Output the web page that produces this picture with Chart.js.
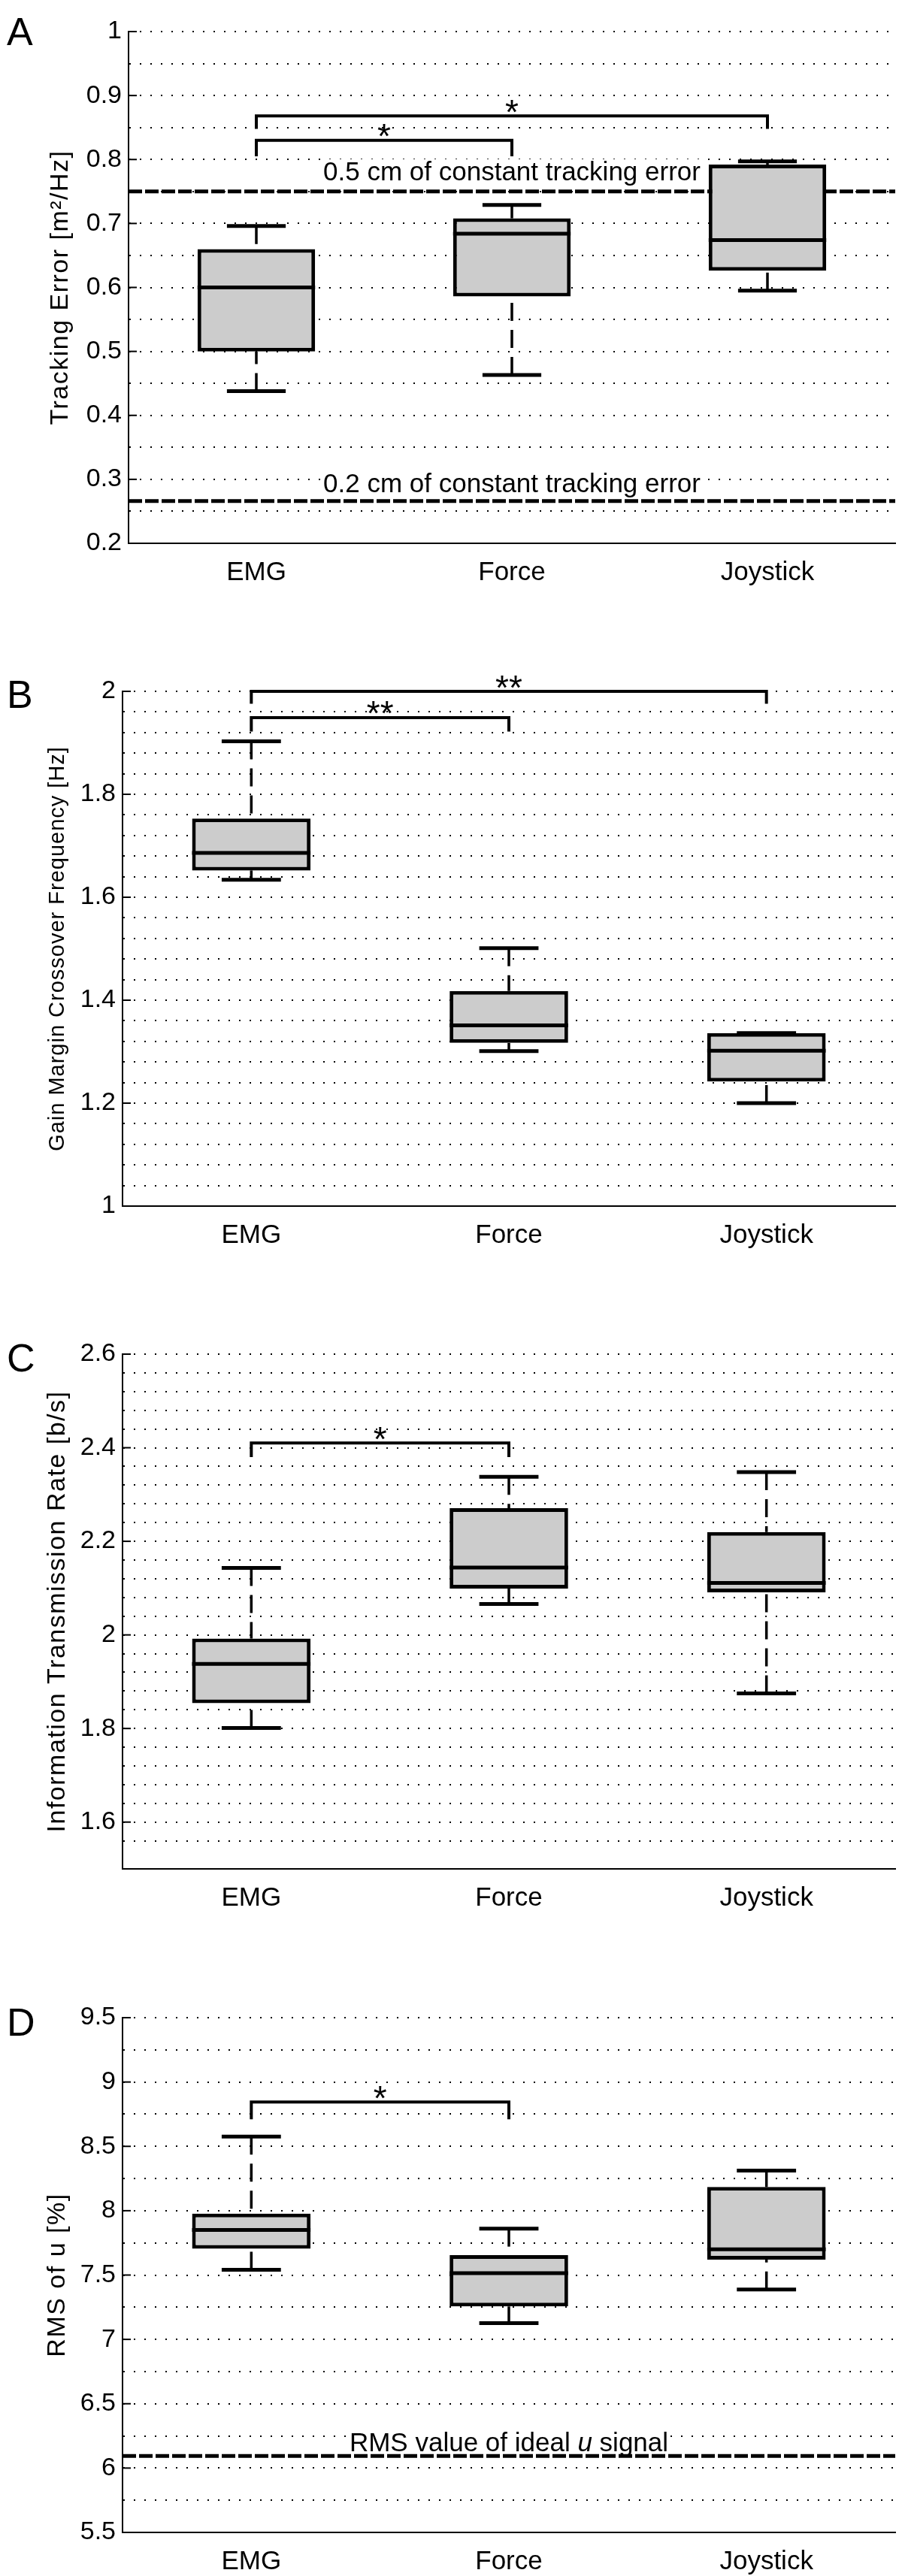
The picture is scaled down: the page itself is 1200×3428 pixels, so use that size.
<!DOCTYPE html>
<html>
<head>
<meta charset="utf-8">
<title>Tracking performance box plots</title>
<script src="https://cdn.jsdelivr.net/npm/chart.js@4.4.1/dist/chart.umd.min.js"></script>
<style>
    html, body { margin: 0; padding: 0; background: #fff; overflow: hidden; }
    .panel { position: absolute; left: 0; width: 1200px; }
</style>
</head>
<body>
<div class="panel" style="top:0px"><canvas id="chartA" width="1200" height="785"></canvas></div>
<div class="panel" style="top:878px"><canvas id="chartB" width="1200" height="785"></canvas></div>
<div class="panel" style="top:1760px"><canvas id="chartC" width="1200" height="785"></canvas></div>
<div class="panel" style="top:2643px"><canvas id="chartD" width="1200" height="785"></canvas></div>
<script>
const categories = ['EMG', 'Force', 'Joystick'];

// A - tracking error
const aLow = [0.438, 0.463, 0.595];
const aQ1 = [0.500, 0.586, 0.626];
const aMed = [0.600, 0.684, 0.674];
const aQ3 = [0.660, 0.708, 0.792];
const aHigh = [0.696, 0.729, 0.797];
const aRefLines = [0.75, 0.266];
const aRefLabels = ['0.5 cm of constant tracking error', '0.2 cm of constant tracking error'];
const aBracketFrom = [0, 0];
const aBracketTo = [1, 2];
const aBracketY = [0.830, 0.868];
const aBracketLeg = [0.805, 0.848];
const aBracketMark = ['*', '*'];

// B - gain margin crossover frequency
const bLow = [1.634, 1.301, 1.200];
const bQ1 = [1.652, 1.317, 1.242];
const bMed = [1.686, 1.351, 1.302];
const bQ3 = [1.753, 1.418, 1.336];
const bHigh = [1.903, 1.501, 1.336];
const bBracketFrom = [0, 0];
const bBracketTo = [1, 2];
const bBracketY = [1.949, 2.0];
const bBracketLeg = [1.922, 1.976];
const bBracketMark = ['**', '**'];

// C - information transmission rate
const cLow = [1.801, 2.066, 1.875];
const cQ1 = [1.854, 2.099, 2.091];
const cMed = [1.938, 2.144, 2.111];
const cQ3 = [1.992, 2.271, 2.220];
const cHigh = [2.143, 2.338, 2.348];
const cBracketFrom = [0];
const cBracketTo = [1];
const cBracketY = [2.410];
const cBracketLeg = [2.380];
const cBracketMark = ['*'];

// D - RMS of u
const dLow = [7.541, 7.126, 7.387];
const dQ1 = [7.704, 7.256, 7.619];
const dMed = [7.851, 7.514, 7.700];
const dQ3 = [7.978, 7.655, 8.184];
const dHigh = [8.576, 7.861, 8.311];
const dRefLines = [6.094];
const dRefLabels = ['RMS value of ideal |u| signal'];
const dBracketFrom = [0];
const dBracketTo = [1];
const dBracketY = [8.844];
const dBracketLeg = [8.71];
const dBracketMark = ['*'];

const FONT = "'Liberation Sans', Arial, Helvetica, sans-serif";

function line(ctx, x1, y1, x2, y2) {
    ctx.beginPath();
    ctx.moveTo(x1, y1);
    ctx.lineTo(x2, y2);
    ctx.stroke();
}

// label with |...| parts in italics, centred on cx, on a white strip
function drawLabel(ctx, text, cx, baseline) {
    const parts = text.split('|');
    let widths = [], total = 0;
    parts.forEach((p, i) => {
        ctx.font = (i % 2 ? 'italic ' : '') + '35px ' + FONT;
        const w = ctx.measureText(p).width;
        widths.push(w);
        total += w;
    });
    ctx.fillStyle = '#fff';
    ctx.fillRect(cx - total / 2 - 3, baseline - 28, total + 6, 32);
    ctx.fillStyle = '#000';
    ctx.textAlign = 'left';
    ctx.textBaseline = 'alphabetic';
    let x = cx - total / 2;
    parts.forEach((p, i) => {
        ctx.font = (i % 2 ? 'italic ' : '') + '35px ' + FONT;
        ctx.fillText(p, x, baseline);
        x += widths[i];
    });
}

const boxExtras = {
    id: 'boxExtras',
    beforeDatasetsDraw(chart, args, o) {
        const ctx = chart.ctx, y = chart.scales.y, x = chart.scales.x, area = chart.chartArea;
        const bars = chart.getDatasetMeta(0).data;
        ctx.save();
        ctx.strokeStyle = '#000';

        // reference lines
        (o.refLines || []).forEach((v, i) => {
            const py = y.getPixelForValue(v);
            drawLabel(ctx, o.refLabels[i], x.getPixelForValue(1), py - o.refOffsets[i]);
            ctx.lineWidth = 5;
            ctx.setLineDash([18, 4]);
            line(ctx, area.left, py, area.right, py);
        });

        // whiskers
        ctx.lineWidth = 3.5;
        ctx.setLineDash([24, 12]);
        bars.forEach((bar, i) => {
            line(ctx, bar.x, y.getPixelForValue(o.high[i]), bar.x, y.getPixelForValue(o.q3[i]));
            line(ctx, bar.x, y.getPixelForValue(o.low[i]), bar.x, y.getPixelForValue(o.q1[i]));
        });
        ctx.restore();
    },
    afterDatasetsDraw(chart, args, o) {
        const ctx = chart.ctx, y = chart.scales.y, area = chart.chartArea;
        const bars = chart.getDatasetMeta(0).data;
        ctx.save();
        ctx.strokeStyle = '#000';
        ctx.setLineDash([]);

        // medians and whisker caps
        bars.forEach((bar, i) => {
            const half = bar.width / 2;
            ctx.lineWidth = 5;
            line(ctx, bar.x - half, y.getPixelForValue(o.med[i]), bar.x + half, y.getPixelForValue(o.med[i]));
            line(ctx, bar.x - half / 2, y.getPixelForValue(o.high[i]), bar.x + half / 2, y.getPixelForValue(o.high[i]));
            line(ctx, bar.x - half / 2, y.getPixelForValue(o.low[i]), bar.x + half / 2, y.getPixelForValue(o.low[i]));
        });

        // significance brackets
        ctx.lineWidth = 4;
        ctx.lineJoin = 'miter';
        o.bracketY.forEach((v, i) => {
            const x1 = bars[o.bracketFrom[i]].x, x2 = bars[o.bracketTo[i]].x;
            const py = y.getPixelForValue(v), pl = y.getPixelForValue(o.bracketLeg[i]);
            ctx.beginPath();
            ctx.moveTo(x1, pl);
            ctx.lineTo(x1, py);
            ctx.lineTo(x2, py);
            ctx.lineTo(x2, pl);
            ctx.stroke();
            ctx.font = '46px ' + FONT;
            ctx.fillStyle = '#000';
            ctx.textAlign = 'center';
            ctx.textBaseline = 'alphabetic';
            const m = ctx.measureText(o.bracketMark[i]);
            const cy = py - 13;
            const base = cy + (m.actualBoundingBoxAscent - m.actualBoundingBoxDescent) / 2;
            ctx.fillText(o.bracketMark[i], (x1 + x2) / 2, base);
        });

        // inward tick marks at labelled values
        ctx.lineWidth = 2;
        y.ticks.forEach((t, i) => {
            if (t.label === '') return;
            const py = y.getPixelForTick(i);
            line(ctx, area.left, py, area.left + 11, py);
        });
        ctx.restore();
    },
    afterDraw(chart, args, o) {
        const ctx = chart.ctx, area = chart.chartArea;
        ctx.save();
        ctx.fillStyle = '#000';
        // panel letter
        ctx.font = '52px ' + FONT;
        ctx.textAlign = 'left';
        ctx.textBaseline = 'alphabetic';
        ctx.fillText(o.letter, 9, o.letterY);
        // y axis title
        ctx.translate(o.titleX, (area.top + area.bottom) / 2);
        ctx.rotate(-Math.PI / 2);
        ctx.font = o.titleSize + 'px ' + FONT;
        ctx.letterSpacing = o.titleSpacing + 'px';
        ctx.textAlign = 'center';
        ctx.textBaseline = 'middle';
        ctx.fillText(o.title, 0, 0);
        ctx.restore();
    }
};

function yLabel(major) {
    return function (value) {
        const r = value / major;
        if (Math.abs(r - Math.round(r)) > 1e-6) return '';
        return String(Math.round(value * 100) / 100);
    };
}

function makeBoxChart(id, p) {
    const el = document.getElementById(id);
    if (!el) return null;
    return new Chart(el, {
        type: 'bar',
        data: {
            labels: categories,
            datasets: [{
                data: p.q1.map((v, i) => [v, p.q3[i]]),
                backgroundColor: '#cccccc',
                borderColor: '#000000',
                borderWidth: 5,
                borderSkipped: false,
                barPercentage: 0.46,
                categoryPercentage: 1.0
            }]
        },
        options: {
            responsive: false,
            animation: false,
            devicePixelRatio: 1,
            layout: {
                padding: { top: 42, right: 9, bottom: 0, left: 0 }
            },
            plugins: {
                legend: { display: false },
                tooltip: { enabled: false },
                boxExtras: p
            },
            scales: {
                x: {
                    grid: { display: false },
                    border: { display: true, color: '#000', width: 2 },
                    ticks: {
                        color: '#000',
                        font: { family: FONT, size: 35 },
                        padding: 10,
                        autoSkip: false,
                        maxRotation: 0
                    },
                    afterFit: (scale) => { scale.height = p.xHeight; }
                },
                y: {
                    min: p.min,
                    max: p.max,
                    grid: {
                        color: '#000',
                        lineWidth: 2,
                        drawTicks: false,
                        borderDash: [2, 12]
                    },
                    border: { display: true, color: '#000', width: 2, dash: [2, 12] },
                    ticks: {
                        stepSize: p.step,
                        autoSkip: false,
                        color: '#000',
                        font: { family: FONT, size: 34 },
                        padding: 9,
                        callback: yLabel(p.major)
                    },
                    afterFit: (scale) => { scale.width = p.left; }
                }
            }
        },
        plugins: [boxExtras]
    });
}

makeBoxChart('chartA', {
    low: aLow, q1: aQ1, med: aMed, q3: aQ3, high: aHigh,
    refLines: aRefLines, refLabels: aRefLabels, refOffsets: [15, 12],
    bracketFrom: aBracketFrom, bracketTo: aBracketTo, bracketY: aBracketY, bracketLeg: aBracketLeg, bracketMark: aBracketMark,
    min: 0.2, max: 1, step: 0.05, major: 0.1,
    left: 171, xHeight: 62,
    letter: 'A', letterY: 60,
    title: 'Tracking Error [m\u00b2/Hz]', titleX: 81, titleSize: 34, titleSpacing: 1.5
});

makeBoxChart('chartB', {
    low: bLow, q1: bQ1, med: bMed, q3: bQ3, high: bHigh,
    bracketFrom: bBracketFrom, bracketTo: bBracketTo, bracketY: bBracketY, bracketLeg: bBracketLeg, bracketMark: bBracketMark,
    min: 1, max: 2, step: 0.04, major: 0.2,
    left: 163, xHeight: 58,
    letter: 'B', letterY: 64,
    title: 'Gain Margin Crossover Frequency [Hz]', titleX: 77, titleSize: 29, titleSpacing: 1
});

makeBoxChart('chartC', {
    low: cLow, q1: cQ1, med: cMed, q3: cQ3, high: cHigh,
    bracketFrom: cBracketFrom, bracketTo: cBracketTo, bracketY: cBracketY, bracketLeg: cBracketLeg, bracketMark: cBracketMark,
    min: 1.5, max: 2.6, step: 0.04, major: 0.2,
    left: 163, xHeight: 58,
    letter: 'C', letterY: 65,
    title: 'Information Transmission Rate [b/s]', titleX: 77, titleSize: 34, titleSpacing: 1.5
});

makeBoxChart('chartD', {
    low: dLow, q1: dQ1, med: dMed, q3: dQ3, high: dHigh,
    refLines: dRefLines, refLabels: dRefLabels, refOffsets: [6],
    bracketFrom: dBracketFrom, bracketTo: dBracketTo, bracketY: dBracketY, bracketLeg: dBracketLeg, bracketMark: dBracketMark,
    min: 5.5, max: 9.5, step: 0.25, major: 0.5,
    left: 163, xHeight: 58,
    letter: 'D', letterY: 66,
    title: 'RMS of u [%]', titleX: 77, titleSize: 34, titleSpacing: 1.5
});
</script>
</body>
</html>
